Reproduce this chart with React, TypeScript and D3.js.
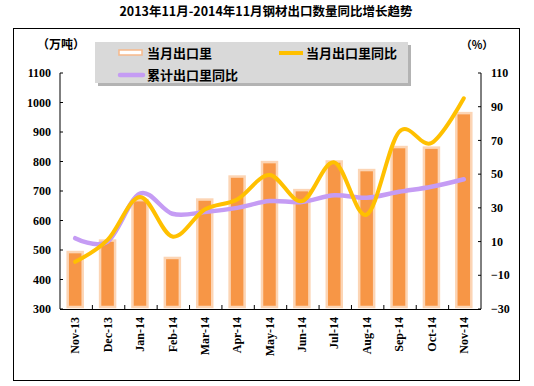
import React from 'react'
import * as d3 from 'd3'

// data
const months = ['Nov-13', 'Dec-13', 'Jan-14', 'Feb-14', 'Mar-14', 'Apr-14', 'May-14', 'Jun-14', 'Jul-14', 'Aug-14', 'Sep-14', 'Oct-14', 'Nov-14']
const exportVolume = [493, 532, 669, 473, 671, 749, 798, 703, 800, 771, 849, 847, 964]
const monthYoY = [-2, 11, 36.5, 13, 29, 35, 49.5, 34, 57, 26, 75, 68.5, 95]
const cumulativeYoY = [12, 10, 38.5, 26.5, 27.5, 30, 34, 33.5, 37.5, 36, 39.5, 42.5, 47]
const leftTicks = [300, 400, 500, 600, 700, 800, 900, 1000, 1100]
const rightTicks = [-30, -10, 10, 30, 50, 70, 90, 110]

const W = 534
const H = 386
const plot = { left: 60, right: 481, top: 73, bottom: 309 }

const numFont = '"Liberation Serif", "DejaVu Serif", serif'
const cjkFont = '"Noto Sans CJK SC", sans-serif'

const App = () => {
  const x = d3.scaleBand<string>().domain(months).range([plot.left, plot.right])
  const yL = d3.scaleLinear().domain([300, 1100]).range([plot.bottom, plot.top])
  const yR = d3.scaleLinear().domain([-30, 110]).range([plot.bottom, plot.top])
  const cx = (m: string) => (x(m) as number) + x.bandwidth() / 2

  const line = d3.line<number>()
    .x((_, i) => cx(months[i]) - 1)
    .y(d => yR(d))
    .curve(d3.curveCardinal.tension(0))

  const barW = 15

  return (
    <svg width={W} height={H} style={{ position: 'absolute', left: 0, top: 0, background: '#fff' }}>
      <text x={266} y={16} textAnchor="middle" fontFamily={cjkFont} fontWeight="bold" fontSize={12.5} fill="#000">
        2013年11月-2014年11月钢材出口数量同比增长趋势
      </text>
      <rect x={13.5} y={28.5} width={506} height={352} fill="#fff" stroke="#000" strokeWidth={1} />

      {/* bars */}
      {months.map((m, i) => (
        <rect key={m} x={cx(m) - barW / 2 - 1} y={yL(exportVolume[i])} width={barW}
          height={plot.bottom - 2 - yL(exportVolume[i])}
          fill="#f79646" stroke="#fcd5b5" strokeWidth={2.5} />
      ))}

      {/* lines */}
      <path d={line(cumulativeYoY) || ''} fill="none" stroke="#c59cf4" strokeWidth={4.5} strokeLinecap="round" />
      <path d={line(monthYoY) || ''} fill="none" stroke="#ffc000" strokeWidth={4} strokeLinecap="round" />

      {/* axes */}
      <line x1={plot.left} x2={plot.left} y1={plot.top} y2={plot.bottom} stroke="#000" />
      <line x1={plot.right} x2={plot.right} y1={plot.top} y2={plot.bottom} stroke="#000" />
      <line x1={plot.left} x2={plot.right} y1={plot.bottom + 0.5} y2={plot.bottom + 0.5} stroke="#000" />
      {leftTicks.map(t => (
        <g key={'l' + t}>
          <line x1={plot.left} x2={plot.left + 3} y1={yL(t)} y2={yL(t)} stroke="#000" />
          <text x={plot.left - 9} y={yL(t)} dy="0.35em" textAnchor="end" fontFamily={numFont} fontWeight="bold" fontSize={12}>{t}</text>
        </g>
      ))}
      {rightTicks.map(t => (
        <g key={'r' + t}>
          <line x1={plot.right - 3} x2={plot.right} y1={yR(t)} y2={yR(t)} stroke="#000" />
          <text x={plot.right + 10} y={yR(t)} dy="0.35em" textAnchor="start" fontFamily={numFont} fontWeight="bold" fontSize={12}>
            {t < 0 ? '\u2212' + Math.abs(t) : t}
          </text>
        </g>
      ))}
      {months.slice(1).map(m => (
        <line key={'t' + m} x1={x(m) as number} x2={x(m) as number} y1={plot.bottom - 4} y2={plot.bottom} stroke="#000" />
      ))}
      {months.map(m => (
        <text key={'x' + m} transform={`translate(${cx(m) - 1},${plot.bottom + 8}) rotate(-90)`}
          textAnchor="end" dy="0.35em" fontFamily={numFont} fontWeight="bold" fontSize={12}>{m}</text>
      ))}

      <text x={61} y={49} textAnchor="middle" fontFamily={cjkFont} fontWeight="bold" fontSize={12}>（万吨）</text>
      <text x={477} y={49} textAnchor="middle" fontFamily={cjkFont} fontWeight="bold" fontSize={11}>（%）</text>

      {/* legend */}
      <rect x={98} y={45} width={313} height={41} fill="#808080" opacity={0.6} />
      <rect x={95} y={42} width={313} height={41} fill="#d9d9d9" />
      <rect x={119} y={50} width={23} height={5} fill="#fff" stroke="#f7b98a" strokeWidth={1.5} />
      <text x={147} y={53} dy="0.35em" fontFamily={cjkFont} fontWeight="bold" fontSize={13}>当月出口里</text>
      <line x1={279} x2={303} y1={53} y2={53} stroke="#ffc000" strokeWidth={4} />
      <text x={306} y={53} dy="0.35em" fontFamily={cjkFont} fontWeight="bold" fontSize={13}>当月出口里同比</text>
      <line x1={120} x2={143} y1={75} y2={75} stroke="#c59cf4" strokeWidth={4.5} strokeLinecap="round" />
      <text x={147} y={75} dy="0.35em" fontFamily={cjkFont} fontWeight="bold" fontSize={13}>累计出口里同比</text>
    </svg>
  )
}

export default App
